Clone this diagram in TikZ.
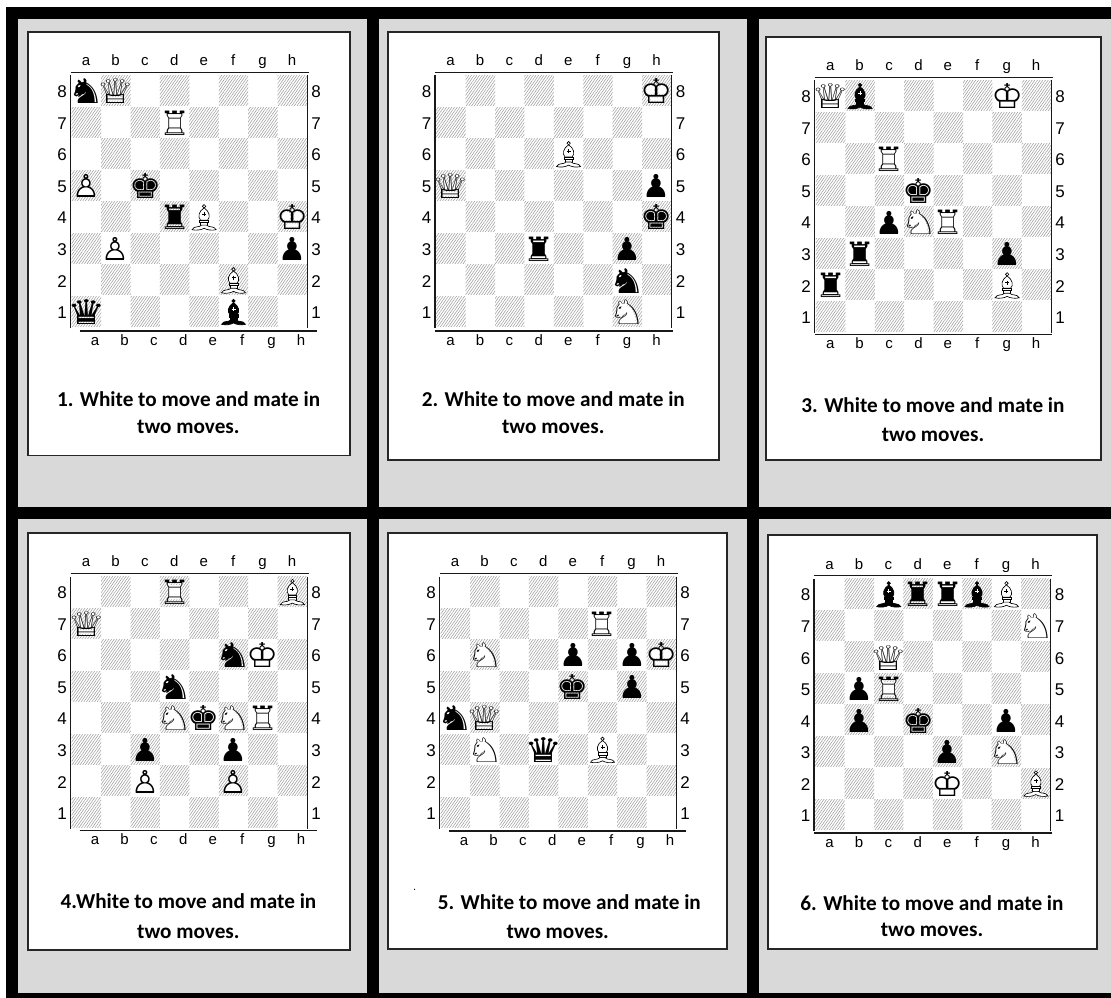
\documentclass[tikz,border=0pt]{standalone}
\usepackage{fontspec}
\setmainfont{Liberation Sans}
\newfontfamily\chessfont{DejaVu Sans}
\newfontfamily\capfont{Carlito}
\usetikzlibrary{patterns.meta}
\definecolor{panelgray}{HTML}{D9D9D9}
\definecolor{hatchgray}{gray}{0.6}
\tikzset{
  x=1pt,y=-1pt,
  panel/.style={fill=panelgray,draw=none},
  card/.style={fill=white,draw=black!85,line width=1.4pt},
  hatch/.style={pattern={Lines[angle=55,distance=2.2pt,line width=0.5pt]},pattern color=hatchgray},
  rulehv/.style={draw=black!90,line width=1.2pt},
  filelabel/.style={inner sep=0pt,anchor=base,font=\fontsize{15}{16}\selectfont},
  ranklabel/.style={inner sep=0pt,anchor=center,font=\fontsize{17}{18}\selectfont},
  piece/.style={inner sep=0pt,anchor=center,font=\chessfont\fontsize{31}{31}\selectfont,transform shape},
  sizeK/.style={xscale=1.16,yscale=1.1},
  sizeQ/.style={xscale=1.38,yscale=1.1},
  sizeR/.style={xscale=1.12,yscale=1.08},
  sizeN/.style={xscale=1.35,yscale=1.1},
  sizeP/.style={xscale=1,yscale=1.02},
  captext/.style={inner sep=0pt,anchor=base,font=\capfont\bfseries\fontsize{21.2}{22}\selectfont},
}
\def\cw{29.42}
\def\rh{31.55}
\newcommand{\bN}{♞}\newcommand{\bK}{♚}\newcommand{\bQ}{♛}\newcommand{\bR}{♜}\newcommand{\bP}{♟}
\newcommand{\wN}{♘}\newcommand{\wK}{♔}\newcommand{\wQ}{♕}\newcommand{\wR}{♖}\newcommand{\wP}{♙}
\newcount\pccount
\newcommand{\ChessBoard}[5]{%
  \foreach \c/\l in {0/a,1/b,2/c,3/d,4/e,5/f,6/g,7/h}{%
    \foreach \r in {1,...,8}{%
      \pgfmathsetmacro{\xa}{#1+1.2+\c*\cw}%
      \pgfmathsetmacro{\ya}{#3+(8-\r)*\rh}%
      \coordinate (\l\r) at ({\xa+\cw/2},{\ya+\rh/2});
      \pgfmathtruncatemacro{\isdark}{mod(\c+\r,2)==1 ? 1 : 0}%
      \ifnum\isdark=1\relax
        \path[hatch] (\xa,\ya) rectangle ({\xa+\cw},{\ya+\rh-1.5});
      \fi
    }%
    \pgfmathsetmacro{\xb}{#1+1.2+\c*\cw+\cw/2-0.4}%
    \node[filelabel] (top\l) at (\xb,{#2-6.7}) {\l};
    \node[filelabel] (bot\l) at ({\xb+#4},{#5+14}) {\l};
  }%
  \foreach \r in {1,...,8}{%
    \pgfmathsetmacro{\yb}{#3+(8-\r)*\rh+\rh/2+0.6}%
    \node[ranklabel] (ll\r) at ({#1-8.5},\yb) {\r};
    \node[ranklabel] (rl\r) at ({#1+236.5+9},\yb) {\r};
  }%
  \draw[rulehv] (#1,#2) -- ({#1+238},#2);
  \draw[rulehv] (#1,#3) -- (#1,{#3+8*\rh});
  \draw[rulehv] ({#1+236.6},#3) -- ({#1+236.6},{#3+8*\rh});
  \draw[rulehv] ({#1+#4},#5) -- ({#1+#4+237.5},#5);
}
\newcommand{\PcB}[2]{\global\advance\pccount by 1
  \node[piece,black,size#1] (pc\the\pccount) at (#2) {\csname b#1\endcsname};}
\newcommand{\PcW}[2]{\global\advance\pccount by 1
  \node[piece,white,size#1] (pcf\the\pccount) at (#2) {\csname b#1\endcsname};
  \node[piece,black,size#1] (pc\the\pccount) at (#2) {\csname w#1\endcsname};}
\newcommand{\Bishop}[3]{%
  \begin{scope}[shift={(#1)},line width=0.65pt,draw=black,fill=#2]
    \filldraw (0,-11.2) circle (1.7);
    \filldraw (0,-9.6) .. controls (5.5,-6) and (6.5,-0.5) .. (3.6,2.6) -- (-3.6,2.6) .. controls (-6.5,-0.5) and (-5.5,-6) .. (0,-9.6) -- cycle;
    \filldraw (-4.4,2.6) rectangle (4.4,5);
    \filldraw (-3.6,5) rectangle (3.6,7.6);
    \filldraw (-12,12.2) .. controls (-10,8) and (-5,10.5) .. (-2.5,7.6) -- (2.5,7.6) .. controls (5,10.5) and (10,8) .. (12,12.2) .. controls (8,13.2) and (3,12.6) .. (0,10.8) .. controls (-3,12.6) and (-8,13.2) .. (-12,12.2) -- cycle;
    \draw[draw=#3,line width=0.6pt] (-2,-3) -- (2,-3) (0,-5) -- (0,-1);
  \end{scope}}
\newcommand{\PcWB}[1]{\Bishop{#1}{white}{black}}
\newcommand{\PcBB}[1]{\Bishop{#1}{black}{white}}
\newcommand{\Cap}[7]{%
  \node[captext] (cap#1a) at (#2,#3) {#4};
  \node[captext] (cap#1b) at (#5,#6) {two moves.};
}
\begin{document}
\begin{tikzpicture}
\useasboundingbox (0,0) rectangle (1111,998);
\fill[white] (0,0) rectangle (1111,998);
\fill[black] (6,7) rectangle (1111,998);
\path[panel] (18,19) rectangle (367,507);
\path[panel] (379,19) rectangle (747,507);
\path[panel] (759,19) rectangle (1111,507);
\path[panel] (18,519) rectangle (367,993);
\path[panel] (379,519) rectangle (747,993);
\path[panel] (759,519) rectangle (1111,993);
\path[card] (28,32) rectangle (350,455.5);
\path[card] (388,32) rectangle (719,460);
\path[card] (766,37) rectangle (1101,460);
\path[card] (28,533) rectangle (350,950);
\path[card] (388,533) rectangle (727,949);
\path[card] (768,535) rectangle (1097,949);
% board 1
\ChessBoard{70.5}{72.7}{75.5}{9}{331}
\PcB{N}{a8}\PcW{Q}{b8}\PcW{R}{d7}\PcW{P}{a5}\PcB{K}{c5}\PcB{R}{d4}\PcWB{e4}\PcW{K}{h4}
\PcW{P}{b3}\PcB{P}{h3}\PcWB{f2}\PcB{Q}{a1}\PcBB{f1}
\Cap{1}{188.6}{406.7}{1. White to move and mate in}{188.4}{433.3}{}
% board 2
\ChessBoard{435}{72.7}{75.5}{0}{331}
\PcW{K}{h8}\PcWB{e6}\PcW{Q}{a5}\PcB{P}{h5}\PcB{K}{h4}\PcB{R}{d3}\PcB{P}{g3}\PcB{N}{g2}\PcW{N}{g1}
\Cap{2}{553.3}{406.7}{2. White to move and mate in}{553.3}{433.2}{}
% board 3
\ChessBoard{814.7}{77.5}{80.5}{0}{334.5}
\PcW{Q}{a8}\PcBB{b8}\PcW{K}{g8}\PcW{R}{c6}\PcB{K}{d5}\PcB{P}{c4}\PcW{N}{d4}\PcW{R}{e4}
\PcB{R}{b3}\PcB{P}{g3}\PcB{R}{a2}\PcWB{g2}
\Cap{3}{933}{412.2}{3. White to move and mate in}{933}{441.5}{}
% board 4
\ChessBoard{70.5}{573.3}{576.5}{9}{830.7}
\PcW{R}{d8}\PcWB{h8}\PcW{Q}{a7}\PcB{N}{f6}\PcW{K}{g6}\PcB{N}{d5}\PcW{N}{d4}\PcB{K}{e4}
\PcW{N}{f4}\PcW{R}{g4}\PcB{P}{c3}\PcB{P}{f3}\PcW{P}{c2}\PcW{P}{f2}
\Cap{4}{188.5}{908.2}{4.White to move and mate in}{188.4}{938.5}{}
% board 5
\ChessBoard{439.5}{573.3}{576.5}{9}{831}
\PcW{R}{f7}\PcW{N}{b6}\PcB{P}{e6}\PcB{P}{g6}\PcW{K}{h6}\PcB{K}{e5}\PcB{P}{g5}\PcB{N}{a4}
\PcW{Q}{b4}\PcW{N}{b3}\PcB{Q}{d3}\PcWB{f3}
\Cap{5}{569.3}{909.2}{5. White to move and mate in}{557.7}{938.2}{}
\node[inner sep=0pt,anchor=base,font=\fontsize{11}{12}\selectfont] (dotmark) at (414.7,890.5) {.};
% board 6
\ChessBoard{814}{575.7}{578.7}{0}{833}
\PcBB{c8}\PcB{R}{d8}\PcB{R}{e8}\PcBB{f8}\PcWB{g8}\PcW{N}{h7}\PcW{Q}{c6}\PcB{P}{b5}
\PcW{R}{c5}\PcB{P}{b4}\PcB{K}{d4}\PcB{P}{g4}\PcB{P}{e3}\PcW{N}{g3}\PcW{K}{e2}\PcWB{h2}
\Cap{6}{932}{910.5}{6. White to move and mate in}{932}{936.5}{}
\end{tikzpicture}
\end{document}
